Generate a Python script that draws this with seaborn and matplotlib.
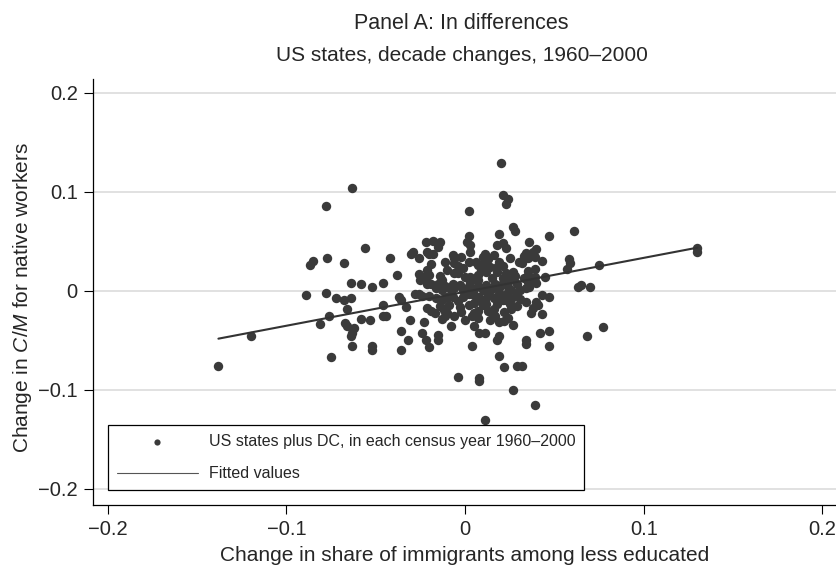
import numpy as np
import pandas as pd
import matplotlib
matplotlib.use('Agg')
import matplotlib.pyplot as plt
import seaborn as sns

# change in immigrant share (x) and change in C/M (y)
share_chg = [
    -0.138, -0.120, -0.089, -0.087, -0.085, -0.078, -0.077, -0.078, -0.072, -0.081,
    -0.075, -0.068, -0.068, -0.064, -0.066, -0.076, -0.067, -0.066, -0.062, -0.063,
    -0.064, -0.063, -0.063, -0.056, -0.064, -0.058, -0.052, -0.046, -0.058, -0.053,
    -0.046, -0.044, -0.046, -0.052, -0.052, -0.042, -0.038, -0.037, -0.036, -0.033,
    -0.031, -0.036, -0.032, -0.036, -0.029, -0.030, -0.026, -0.022, -0.018, -0.014,
    -0.015, -0.021, -0.020, -0.018, -0.026, -0.024, -0.021, -0.020, -0.022, -0.028,
    -0.026, -0.024, -0.023, -0.024, -0.022, -0.020, -0.015, -0.015, -0.008, -0.004,
    -0.021, -0.019, -0.017, -0.014, -0.012, -0.010, -0.011, -0.013, -0.009, -0.010,
    -0.004, -0.003, -0.007, -0.006, -0.002, 0.003, 0.002, 0.002, 0.001, 0.003,
    0.011, 0.010, 0.018, 0.021, 0.023, 0.019, 0.020, 0.021, 0.024, 0.023,
    0.027, 0.028, 0.047, 0.061, 0.036, 0.040, 0.038, 0.034, 0.033, 0.039,
    0.035, 0.025, 0.043, 0.058, 0.059, 0.057, 0.075, 0.030, 0.032, 0.006,
    0.007, 0.010, 0.019, 0.021, 0.014, 0.018, 0.035, 0.039, 0.027, 0.028,
    -0.014, -0.013, -0.015, -0.006, -0.004, -0.007, 0.000, 0.003, 0.003, 0.007,
    0.007, 0.015, 0.023, 0.025, 0.029, -0.021, -0.025, 0.039, 0.038, 0.036,
    0.034, 0.040, 0.035, 0.063, 0.065, 0.070, 0.130, 0.130, 0.077, 0.068,
    0.043, 0.047, 0.034, 0.040, 0.041, 0.038, 0.037, 0.043, 0.027, 0.019,
    0.022, 0.014, 0.005, 0.008, 0.011, 0.019, 0.018, 0.042, 0.047, 0.034,
    0.034, 0.047, 0.004, 0.019, 0.022, 0.029, 0.032, 0.008, 0.008, 0.027,
    0.039, 0.011, 0.004, 0.005, 0.007, 0.007, 0.013, 0.015, 0.016, 0.023,
    0.026, 0.025, 0.002, 0.005, 0.007, 0.018, 0.021, 0.021, 0.023,
]
cm_chg = [
    -0.076, -0.046, -0.004, 0.026, 0.030, 0.086, 0.033, -0.002, -0.007, -0.034,
    -0.067, 0.028, -0.009, -0.007, -0.019, -0.026, -0.033, -0.036, -0.038, -0.043,
    -0.046, -0.056, 0.104, 0.043, 0.008, 0.007, 0.004, 0.008, -0.029, -0.030,
    -0.026, -0.026, -0.014, -0.056, -0.060, 0.033, 0.016, -0.006, -0.009, -0.017,
    -0.030, -0.041, -0.050, -0.060, 0.039, 0.037, 0.033, 0.049, 0.050, 0.049,
    0.044, 0.039, 0.037, 0.037, 0.017, 0.014, 0.021, 0.016, 0.014, -0.003,
    -0.003, -0.005, -0.032, -0.043, -0.050, -0.057, -0.045, -0.050, -0.036, -0.087,
    -0.018, -0.021, -0.023, -0.016, -0.020, -0.023, -0.026, -0.029, -0.015, -0.006,
    -0.010, -0.017, 0.036, 0.033, 0.034, 0.039, 0.080, 0.055, 0.049, 0.046,
    0.037, 0.034, 0.046, 0.048, 0.043, 0.057, 0.129, 0.097, 0.093, 0.088,
    0.064, 0.060, 0.055, 0.060, 0.049, 0.042, 0.039, 0.038, 0.035, 0.034,
    0.033, 0.033, 0.030, 0.032, 0.028, 0.022, 0.026, 0.029, 0.028, 0.029,
    0.026, 0.027, 0.029, 0.025, 0.024, 0.024, 0.020, 0.022, 0.019, 0.015,
    0.015, 0.011, 0.007, 0.018, 0.018, 0.007, 0.014, 0.014, 0.009, 0.016,
    0.011, 0.013, 0.018, 0.011, 0.007, 0.007, 0.011, 0.014, 0.009, 0.004,
    0.003, 0.008, 0.009, 0.004, 0.006, 0.004, 0.043, 0.039, -0.037, -0.046,
    -0.004, -0.006, -0.011, -0.011, -0.014, -0.018, -0.023, -0.024, -0.035, -0.032,
    -0.031, -0.030, -0.036, -0.043, -0.043, -0.046, -0.050, -0.043, -0.041, -0.050,
    -0.054, -0.056, -0.056, -0.066, -0.077, -0.076, -0.076, -0.088, -0.091, -0.100,
    -0.116, -0.131, -0.026, -0.023, -0.021, -0.028, -0.021, -0.023, -0.019, -0.009,
    -0.008, -0.013, -0.014, -0.012, -0.009, -0.013, -0.009, -0.007, -0.003,
]
# points inside the dense central blob (estimated)
core_share = [
    -0.019, -0.016, -0.013, -0.011, -0.008, -0.006, -0.003, -0.001, 0.002, 0.005,
    0.007, 0.010, 0.012, 0.015, 0.017, 0.019, 0.021, 0.024, 0.026, 0.029, 0.031,
    -0.020, -0.016, -0.013, -0.007, -0.001, 0.002, 0.005, 0.008, 0.011, 0.013,
    0.016, 0.019, 0.026, 0.029, 0.031, 0.010, 0.012, -0.002, -0.006, 0.000,
    0.017, 0.022, 0.024, 0.009, 0.012, 0.018, 0.021, -0.004, -0.001, -0.010,
    -0.019, -0.011, -0.006, 0.002, 0.013, 0.016, 0.033, 0.035, 0.045,
]
core_cm = [
    0.007, 0.003, 0.001, 0.005, 0.001, 0.003, 0.006, 0.001, 0.005, 0.002,
    0.005, 0.001, 0.006, 0.002, 0.007, 0.003, 0.008, 0.004, 0.001, -0.003, 0.001,
    -0.005, -0.007, -0.009, -0.006, -0.006, -0.003, -0.004, -0.006, -0.009, -0.004,
    -0.007, -0.003, -0.019, -0.016, -0.008, -0.014, -0.013, -0.022, -0.026, -0.030,
    -0.026, -0.022, -0.028, 0.021, 0.019, 0.019, 0.013, 0.025, 0.023, 0.021,
    0.027, 0.029, 0.028, 0.029, 0.032, 0.036, 0.013, 0.016, 0.014,
]

# fitted values as drawn in the figure (ends of the fitted line)
fit_x = [-0.138, 0.130]
fit_y = [-0.0485, 0.0434]

ticks = [-0.2, -0.1, 0, 0.1, 0.2]
tick_labels = ['\u22120.2', '\u22120.1', '0', '0.1', '0.2']

df = pd.DataFrame({'share': share_chg + core_share, 'cm': cm_chg + core_cm})

sns.set_style('white')
plt.rcParams['font.family'] = ['Liberation Sans', 'DejaVu Sans']
plt.rcParams['mathtext.fontset'] = 'custom'
plt.rcParams['mathtext.rm'] = 'Liberation Sans'
plt.rcParams['mathtext.it'] = 'Liberation Sans:italic'

fig = plt.figure(figsize=(8.36, 5.69), dpi=100)
ax = fig.add_axes([0.1112, 0.1125, 0.8888, 0.7487])
ax.set_axisbelow(True)

sns.scatterplot(data=df, x='share', y='cm', ax=ax, s=46, color='#3a3a3a',
                linewidth=0, label='US states plus DC, in each census year 1960\u20132000',
                zorder=3)
sns.lineplot(x=fit_x, y=fit_y, ax=ax, color='#333333', lw=1.5,
             label='Fitted values', zorder=4)

ax.set_xlim(-0.2082, 0.2076)
ax.set_ylim(-0.2165, 0.2138)
ax.set_xticks(ticks, tick_labels)
ax.set_yticks(ticks, tick_labels)
ax.yaxis.grid(True, color='#d9d9d9', lw=1.1)
ax.xaxis.grid(False)
sns.despine(ax=ax)
for s in ['left', 'bottom']:
    ax.spines[s].set_color('black')
    ax.spines[s].set_linewidth(0.9)
ax.tick_params(bottom=True, left=True, direction='out', length=6.5, width=0.8,
               color='black', labelsize=14.5, pad=4.5)

ax.set_xlabel('Change in share of immigrants among less educated', fontsize=15)
ax.xaxis.set_label_coords(0.5, -0.096)
ax.set_ylabel(r'Change in $\mathit{C/M}$ for native workers', fontsize=15)
ax.yaxis.set_label_coords(-0.0794, 0.486)

fig.text(0.552, 0.958, 'Panel A: In differences', ha='center', va='center', fontsize=15.5)
fig.text(0.552, 0.902, 'US states, decade changes, 1960\u20132000', ha='center',
         va='center', fontsize=15)

leg = ax.legend(loc='lower left', bbox_to_anchor=(0.0202, 0.0352), borderaxespad=0,
                fontsize=11.5, frameon=True, fancybox=False, framealpha=1,
                edgecolor='black', handlelength=5.06, handletextpad=0.7,
                borderpad=0.55, labelspacing=1.06)
leg.get_frame().set_linewidth(0.9)
hs = leg.legend_handles
hs[0].set_sizes([20])
if len(hs) > 1:
    hs[1].set_linewidth(0.8)
    hs[1].set_color('#555555')

fig.savefig('out.png', dpi=100)
